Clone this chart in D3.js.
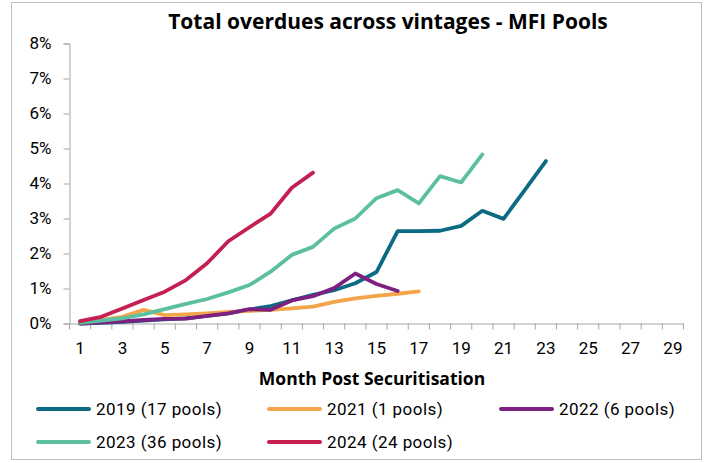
<!DOCTYPE html>
<html><head><meta charset="utf-8">
<script src="https://cdn.jsdelivr.net/npm/d3@7"></script>
<style>
html,body{margin:0;padding:0;background:#fff;}
svg{display:block;font-family:Roboto,"Noto Sans",sans-serif;}
</style></head>
<body><svg id="c" width="706" height="463"></svg>
<script>
const months = d3.range(1, 30);
const tickLabels = ["1","3","5","7","9","11","13","15","17","19","21","23","25","27","29"];
const yTicks = [0,1,2,3,4,5,6,7,8];
const seriesNames = ["2019 (17 pools)","2021 (1 pools)","2022 (6 pools)","2023 (36 pools)","2024 (24 pools)"];
const seriesColors = ["#0C6B82","#F4A549","#7E2082","#5CC0A0","#C41F50"];
const v2019 = [0.00,0.02,0.05,0.08,0.12,0.15,0.22,0.29,0.40,0.50,0.66,0.82,0.95,1.15,1.47,2.64,2.64,2.65,2.79,3.22,2.99,3.81,4.64];
const v2021 = [0.02,0.10,0.19,0.39,0.24,0.26,0.29,0.33,0.36,0.39,0.43,0.48,0.62,0.72,0.79,0.85,0.92];
const v2022 = [0.00,0.03,0.06,0.10,0.13,0.14,0.22,0.29,0.41,0.39,0.66,0.78,1.01,1.43,1.13,0.93];
const v2023 = [0.02,0.08,0.15,0.26,0.41,0.56,0.70,0.89,1.10,1.48,1.96,2.19,2.71,3.00,3.58,3.81,3.43,4.21,4.03,4.83];
const v2024 = [0.07,0.19,0.43,0.67,0.91,1.24,1.72,2.35,2.75,3.14,3.88,4.31];
const seriesValues = [v2019,v2021,v2022,v2023,v2024];

const svg = d3.select("#c");
svg.append("rect").attr("x",11.5).attr("y",2.5).attr("width",690).attr("height",457)
  .attr("fill","#fff").attr("stroke","#BFBFBF").attr("stroke-width",1);

const x = d3.scaleBand().domain(months).range([69.5,683.5]).paddingInner(0).paddingOuter(0);
const y = d3.scaleLinear().domain([0,8]).range([323.5,43.5]);

// Title
svg.append("text").attr("x",388).attr("y",29).attr("text-anchor","middle")
  .attr("font-weight","bold").attr("font-size",21).attr("fill","#000")
  .attr("font-family","'Open Sans',sans-serif")
  .text("Total overdues across vintages - MFI Pools");

// Y axis
const yAxis = d3.axisLeft(y).tickValues(yTicks).tickSize(6).tickPadding(12)
  .tickFormat(d => d + "%");
const gy = svg.append("g").attr("transform","translate(69.5,0)").call(yAxis);
gy.select(".domain").attr("stroke","#A6A6A6");
gy.selectAll(".tick line").attr("stroke","#A6A6A6");
gy.selectAll(".tick text").attr("font-size",17).attr("fill","#000").attr("font-family","Roboto,sans-serif");

// X axis
const xAxis = d3.axisBottom(x).tickSize(0).tickPadding(18)
  .tickFormat(d => tickLabels.includes(String(d)) ? String(d) : "");
const gx = svg.append("g").attr("transform","translate(0,323.5)").call(xAxis);
gx.select(".domain").attr("stroke","#A6A6A6");
gx.selectAll(".tick text").attr("font-size",17).attr("fill","#000").attr("font-family","Roboto,sans-serif");
gx.selectAll(".bt").data(d3.range(0,30)).enter().append("line")
  .attr("x1",i => 69.5 + i*x.bandwidth()).attr("x2",i => 69.5 + i*x.bandwidth())
  .attr("y1",0).attr("y2",6).attr("stroke","#A6A6A6");

svg.append("text").attr("x",372).attr("y",385).attr("text-anchor","middle")
  .attr("font-weight","bold").attr("font-size",17.5).attr("fill","#000")
  .attr("font-family","'Open Sans',sans-serif")
  .text("Month Post Securitisation");

// Lines
const line = d3.line().x((d,i) => x(i+1) + x.bandwidth()/2).y(d => y(d));
seriesValues.forEach((vals,k) => {
  svg.append("path").datum(vals).attr("d",line).attr("fill","none")
    .attr("stroke",seriesColors[k]).attr("stroke-width",3.8)
    .attr("stroke-linejoin","round").attr("stroke-linecap","round");
});

// Legend
const legPos = [[37,409],[268,409],[500,409],[37,442],[268,442]];
seriesNames.forEach((n,k) => {
  const [lx,ly] = legPos[k];
  svg.append("line").attr("x1",lx+1).attr("x2",lx+52).attr("y1",ly).attr("y2",ly)
    .attr("stroke",seriesColors[k]).attr("stroke-width",4).attr("stroke-linecap","round");
  svg.append("text").attr("x",lx+59).attr("y",ly).attr("dy","0.35em")
    .attr("font-size",17).attr("letter-spacing",0.45).attr("fill","#000").text(n);
});
</script></body></html>
